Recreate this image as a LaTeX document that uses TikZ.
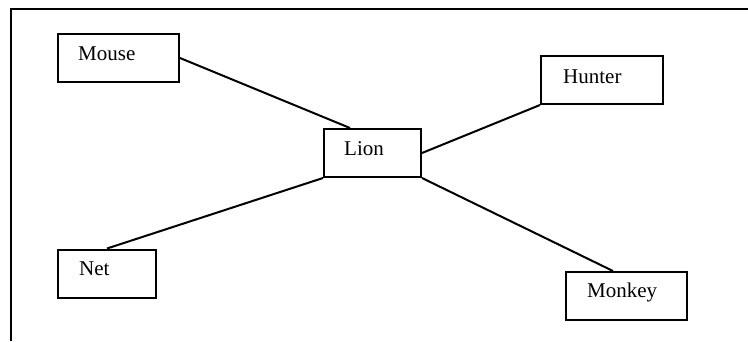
\documentclass[tikz,border=0pt]{standalone}
\usepackage{fontspec}
\setmainfont{Liberation Serif}
\begin{document}
\begin{tikzpicture}[x=1pt,y=-1pt,
  box/.style={draw, line width=2pt, rectangle, inner sep=0pt, minimum width=#1, minimum height=48pt},
  lbl/.style={anchor=base west, inner sep=0pt, font=\fontsize{21}{25}\selectfont},
  conn/.style={line width=2pt}]
\useasboundingbox (0,0) rectangle (748,341);
\draw[line width=2pt] (11,341) -- (11,9) -- (748,9);
\node[box=121pt] (mouse) at (118.5,58) {};
\node[box=97pt] (lion) at (372.5,153) {};
\node[box=122pt] (hunter) at (602,80) {};
\node[box=98pt] (net) at (107,273.5) {};
\node[box=121pt] (monkey) at (626.5,296) {};
\node[lbl] (tmouse) at (78,60.5) {Mouse};
\node[lbl] (tlion) at (344,155) {Lion};
\node[lbl] (thunter) at (563,83) {Hunter};
\node[lbl] (tnet) at (79,275) {Net};
\node[lbl] (tmonkey) at (587,297.5) {Monkey};
\draw[conn] (mouse.east) -- ([xshift=-22.5pt]lion.north);
\draw[conn] (lion.east) -- (hunter.south west);
\draw[conn] (lion.south west) -- (net.north);
\draw[conn] (lion.south east) -- ([xshift=-13.5pt]monkey.north);
\end{tikzpicture}
\end{document}
